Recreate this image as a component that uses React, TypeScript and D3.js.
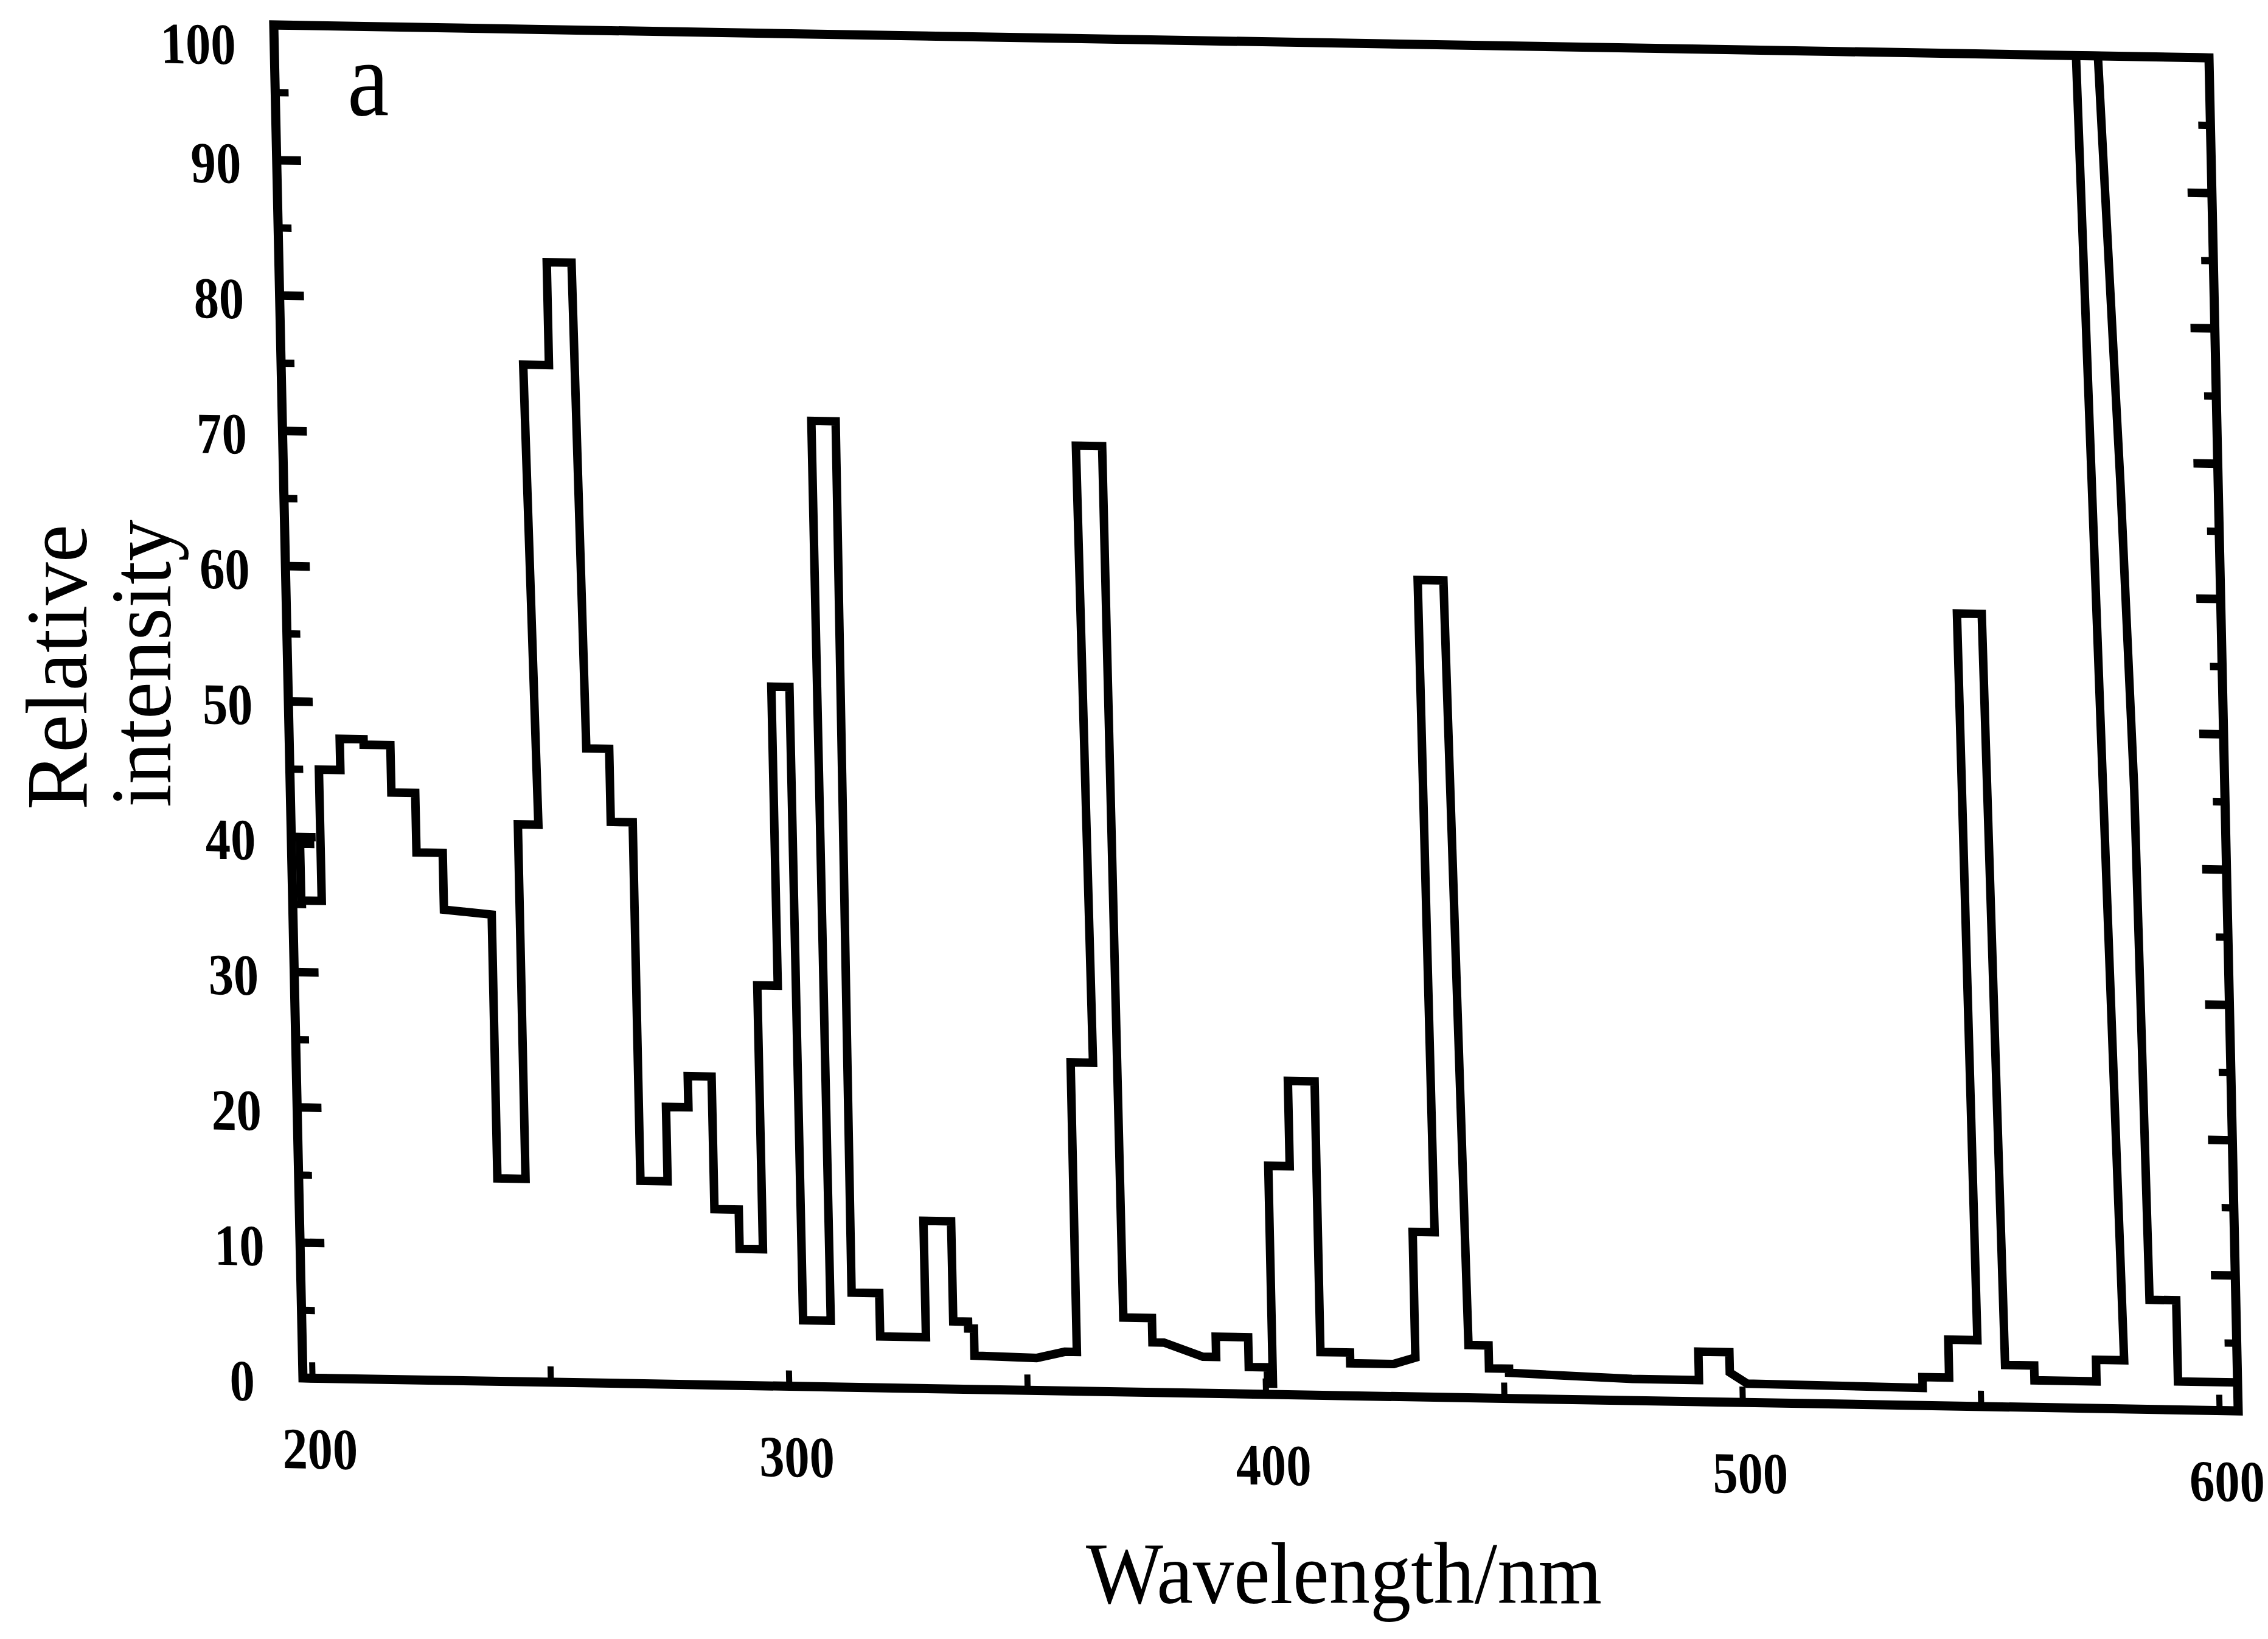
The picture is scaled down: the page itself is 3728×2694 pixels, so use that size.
import React from 'react';
import * as d3 from 'd3';

// Spectrum trace (wavelength in nm, relative intensity)
const wavelength = [
  202.8, 199.8, 199.8, 204.1, 204.1, 208.6, 208.6, 213.6, 213.6, 219.2,
  219.2, 224.2, 224.2, 229.7, 229.7, 239.7, 239.7, 245.6, 245.6, 249.9,
  248.8, 254.2, 254.2, 259.4, 260.3, 265.1, 265.1, 269.7, 269.7, 275.4,
  275.4, 280.1, 280.1, 285.1, 285.1, 290.2, 290.2, 295.1, 295.1, 299.4,
  299.4, 303.2, 303.2, 309.0, 309.0, 314.1, 313.5, 319.3, 319.3, 328.9,
  328.9, 334.7, 334.7, 337.8, 337.8, 339.0, 339.0, 352.0, 358.0, 360.5,
  360.5, 365.2, 364.4, 369.9, 370.4, 376.4, 376.4, 378.8, 386.9, 389.7,
  389.7, 396.5, 396.5, 400.5, 400.5, 401.5, 401.5, 406.0, 406.0, 411.6,
  411.6, 417.8, 417.8, 426.9, 431.5, 431.5, 436.1, 435.5, 440.9, 442.7,
  446.9, 446.9, 451.1, 451.1, 476.9, 490.9, 490.9, 497.4, 497.4, 501.0,
  537.8, 537.8, 543.4, 543.4, 549.5, 548.5, 553.7, 555.2, 561.3, 561.3,
  574.3, 574.3, 580.2, 576.0, 580.6, 583.4, 584.9, 585.8, 591.4, 591.4,
  603.5,
];
const intensity = [
  39.5, 39.5, 35.3, 35.3, 45.0, 45.0, 47.3, 47.3, 46.9, 46.9,
  43.4, 43.4, 39.0, 39.0, 34.8, 34.5, 15.0, 15.0, 41.2, 41.2,
  75.2, 75.2, 82.8, 82.8, 46.9, 46.9, 41.5, 41.5, 15.0, 15.0,
  20.5, 20.5, 22.8, 22.8, 13.0, 13.0, 10.1, 10.1, 29.6, 29.6,
  51.7, 51.7, 4.9, 4.9, 71.4, 71.4, 7.0, 7.0, 3.8, 3.8,
  12.4, 12.4, 5.0, 5.0, 4.5, 4.5, 2.5, 2.4, 2.9, 2.9,
  24.3, 24.3, 69.9, 69.9, 5.5, 5.5, 3.7, 3.7, 2.7, 2.7,
  4.2, 4.2, 2.0, 2.0, 0.8, 0.8, 16.9, 16.9, 23.2, 23.2,
  3.2, 3.2, 2.4, 2.4, 2.9, 12.2, 12.2, 60.4, 60.4, 3.9,
  3.9, 2.2, 2.2, 1.9, 1.6, 1.6, 3.7, 3.7, 2.2, 1.4,
  1.3, 2.1, 2.1, 4.9, 4.9, 58.6, 58.6, 3.1, 3.1, 2.0,
  2.0, 3.6, 3.6, 100, 100, 68.3, 45.8, 8.1, 8.1, 2.1,
  2.1,
];

const yTicks = [0, 10, 20, 30, 40, 50, 60, 70, 80, 90, 100];
const yMinorTicks = [5, 15, 25, 35, 45, 55, 65, 75, 85, 95];
const xTicks = [200, 250, 300, 350, 400, 450, 500, 550, 600];
const xTickLabels = [200, 300, 400, 500, 600];

const W = 3181;
const H = 2224;

export default function App() {
  const x = d3.scaleLinear().domain([198, 603.9]).range([0, W]);
  const y = d3.scaleLinear().domain([0, 100]).range([H, 0]);
  const pts: [number, number][] = wavelength.map((w, i) => [w, intensity[i]]);
  const line = d3
    .line<[number, number]>()
    .x((d) => x(d[0]))
    .y((d) => y(d[1]));

  const serif = "'Liberation Serif', 'DejaVu Serif', serif";

  return (
    <svg
      width={3728}
      height={2694}
      style={{ position: 'absolute', left: 0, top: 0, background: '#fff' }}
    >
      <rect width={3728} height={2694} fill="#fff" />
      <g transform="matrix(1 0.01698 0.02158 1 450 41)">
        <path
          d={line(pts) || ''}
          fill="none"
          stroke="#000"
          strokeWidth={14}
          strokeLinejoin="miter"
          strokeMiterlimit={3}
        />
        <rect x={0} y={0} width={W} height={H} fill="none" stroke="#000" strokeWidth={15} />
        {/* left ticks */}
        {yTicks.map((t) => (
          <line key={'lt' + t} x1={0} x2={40} y1={y(t)} y2={y(t)} stroke="#000" strokeWidth={14} />
        ))}
        {yMinorTicks.map((t) => (
          <line key={'lm' + t} x1={0} x2={22} y1={y(t)} y2={y(t)} stroke="#000" strokeWidth={12} />
        ))}
        {/* right ticks */}
        {yTicks.map((t) => (
          <line key={'rt' + t} x1={W} x2={W - 40} y1={y(t)} y2={y(t)} stroke="#000" strokeWidth={14} />
        ))}
        {yMinorTicks.map((t) => (
          <line key={'rm' + t} x1={W} x2={W - 20} y1={y(t)} y2={y(t)} stroke="#000" strokeWidth={12} />
        ))}
        {/* bottom ticks */}
        {xTicks.map((t) => (
          <line key={'bt' + t} x1={x(t)} x2={x(t)} y1={H} y2={H - 26} stroke="#000" strokeWidth={10} />
        ))}
        {/* y tick labels */}
        {yTicks.map((t) => (
          <g
            key={'yl' + t}
            transform={`translate(${t === 100 ? -125 : -100}, ${y(t) + (t === 100 ? 32 : 5)}) scale(0.86,1)`}
          >
            <text
              textAnchor="middle"
              dy="0.35em"
              fontFamily={serif}
              fontWeight="bold"
              fontSize={96}
              fill="#000"
            >
              {t}
            </text>
          </g>
        ))}
        {/* x tick labels */}
        {xTickLabels.map((t) => (
          <g key={'xl' + t} transform={`translate(${x(t) + 10}, ${H + 115}) scale(0.86,1)`}>
            <text
              textAnchor="middle"
              dy="0.35em"
              fontFamily={serif}
              fontWeight="bold"
              fontSize={96}
              fill="#000"
            >
              {t}
            </text>
          </g>
        ))}
      </g>
      {/* panel letter */}
      <g transform="translate(571,189) scale(0.88,1)">
        <text fontFamily={serif} fontSize={175} fill="#000">
          a
        </text>
      </g>
      {/* axis titles */}
      <text
        x={2209}
        y={2635}
        textAnchor="middle"
        fontFamily={serif}
        fontSize={144}
        textLength={848}
        lengthAdjust="spacingAndGlyphs"
        fill="#000"
      >
        Wavelength/nm
      </text>
      <text
        transform="translate(142,1331) rotate(-90)"
        fontFamily={serif}
        fontSize={145}
        textLength={469}
        lengthAdjust="spacingAndGlyphs"
        fill="#000"
      >
        Relative
      </text>
      <text
        transform="translate(280,1327) rotate(-90)"
        fontFamily={serif}
        fontSize={142}
        textLength={473}
        lengthAdjust="spacingAndGlyphs"
        fill="#000"
      >
        intensity
      </text>
    </svg>
  );
}
